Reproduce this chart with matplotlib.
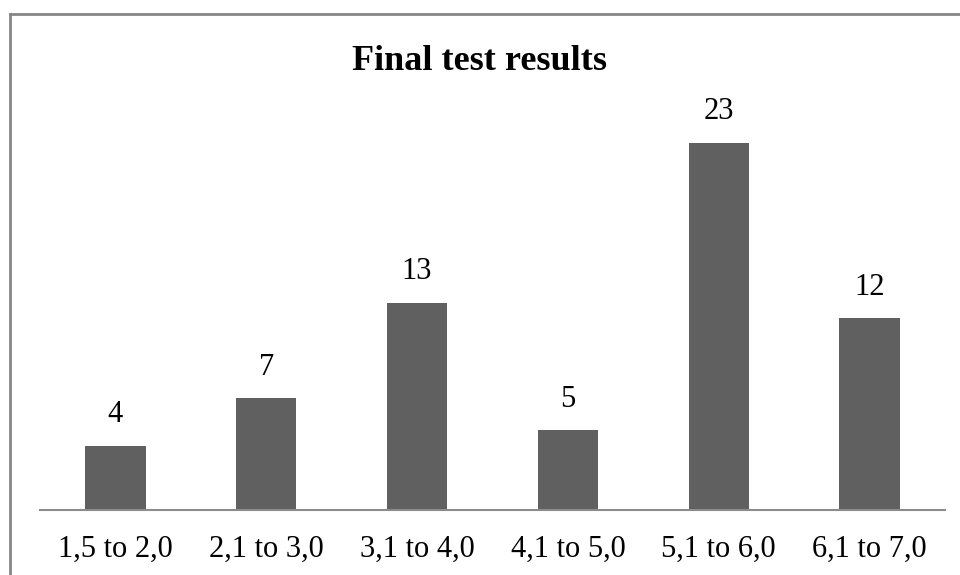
import matplotlib
matplotlib.use("Agg")
import matplotlib.pyplot as plt
from matplotlib.lines import Line2D

plt.rcParams.update({
    "font.family": "Liberation Serif",
    "font.size": 22,
})

categories = ["1,5 to 2,0", "2,1 to 3,0", "3,1 to 4,0", "4,1 to 5,0", "5,1 to 6,0", "6,1 to 7,0"]
counts = [4, 7, 13, 5, 23, 12]

fig = plt.figure(figsize=(9.6, 5.75), dpi=100)
ax = fig.add_axes([40 / 960, 65 / 575, 905 / 960, 399 / 575])

x = range(len(categories))
bars = ax.bar(x, counts, width=0.4, color="#606060")
ax.bar_label(bars, labels=[str(c) for c in counts], padding=12, fontsize=22)

ax.set_xlim(-0.5, len(categories) - 0.5)
ax.set_ylim(0, 25)
ax.set_xticks(list(x))
ax.set_xticklabels(categories, fontsize=22)
ax.tick_params(axis="x", length=0, pad=18)
ax.set_yticks([])
for s in ["top", "right", "left"]:
    ax.spines[s].set_visible(False)
ax.spines["bottom"].set_color("#8c8c8c")
ax.spines["bottom"].set_linewidth(1.5)

fig.text(0.5, 1 - 61 / 575, "Final test results", ha="center", va="center",
         fontsize=26, fontweight="bold")

# outer chart border (only top and left visible in the crop)
fig.add_artist(Line2D([10 / 960, 10 / 960], [0, 1 - 14 / 575], transform=fig.transFigure,
                      color="#868686", linewidth=2))
fig.add_artist(Line2D([10 / 960, 1], [1 - 14 / 575, 1 - 14 / 575], transform=fig.transFigure,
                      color="#868686", linewidth=2))

fig.savefig("out.png", dpi=100)
